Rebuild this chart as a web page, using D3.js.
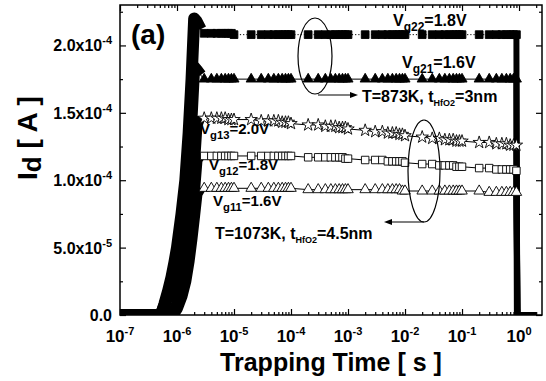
<!DOCTYPE html>
<html>
<head>
<meta charset="utf-8">
<script src="https://cdn.jsdelivr.net/npm/d3@7"></script>
<style>
body { margin: 0; background: #fff; }
text { font-family: "Liberation Sans", Arial, sans-serif; font-weight: bold; fill: #000; }
</style>
</head>
<body>
<svg id="chart" width="546" height="381"></svg>
<script>
// drain current, units of 1e-4 A
var riseT873 = [1e-7, 2e-7, 3e-7, 4e-7, 5e-7, 5.5e-7, 6e-7, 7e-7, 8e-7, 9e-7, 1e-6, 1.2e-6, 1.4e-6, 1.6e-6, 1.8e-6, 2e-6, 2.2e-6, 2.6e-6];
var vg22Rise = [0, 0, 0, 0, 0, 0.03, 0.08, 0.18, 0.28, 0.39, 0.5, 0.75, 1.0, 1.35, 1.75, 2.2, 2.18, 2.12];
var vg21Rise = [0, 0, 0, 0, 0, 0.03, 0.07, 0.15, 0.23, 0.32, 0.42, 0.63, 0.84, 1.13, 1.46, 1.84, 1.82, 1.78];

var riseT1073 = [1e-7, 2e-7, 3e-7, 4e-7, 5e-7, 6e-7, 7e-7, 8e-7, 8.5e-7, 9e-7, 1e-6, 1.2e-6, 1.4e-6, 1.6e-6, 1.8e-6, 2e-6, 2.2e-6, 2.5e-6];
var vg13Rise = [0, 0, 0, 0, 0, 0, 0, 0, 0, 0.03, 0.08, 0.22, 0.38, 0.62, 0.88, 1.14, 1.41, 1.47];
var vg12Rise = [0, 0, 0, 0, 0, 0, 0, 0, 0, 0.03, 0.07, 0.18, 0.31, 0.5, 0.72, 0.93, 1.15, 1.19];
var vg11Rise = [0, 0, 0, 0, 0, 0, 0, 0, 0, 0.02, 0.05, 0.14, 0.25, 0.40, 0.57, 0.74, 0.90, 0.94];

var plateauT = [
  3e-6, 4e-6, 5e-6, 6e-6, 7e-6, 8e-6, 9e-6,
  1e-5, 2e-5, 3e-5, 4e-5, 5e-5, 6e-5, 7e-5, 8e-5, 9e-5,
  1e-4, 2e-4, 3e-4, 4e-4, 5e-4, 6e-4, 7e-4, 8e-4, 9e-4,
  1e-3, 2e-3, 3e-3, 4e-3, 5e-3, 6e-3, 7e-3, 8e-3, 9e-3,
  1e-2, 2e-2, 3e-2, 4e-2, 5e-2, 6e-2, 7e-2, 8e-2, 9e-2,
  1e-1, 2e-1, 3e-1, 4e-1, 5e-1, 6e-1, 7e-1, 8e-1, 9e-1
];
var vg22 = [
  2.09, 2.09, 2.09, 2.09, 2.09, 2.09, 2.09,
  2.08, 2.08, 2.08, 2.08, 2.08, 2.08, 2.08, 2.08, 2.08,
  2.08, 2.08, 2.08, 2.08, 2.08, 2.08, 2.08, 2.08, 2.08,
  2.08, 2.08, 2.08, 2.08, 2.08, 2.08, 2.08, 2.08, 2.08,
  2.08, 2.08, 2.08, 2.08, 2.08, 2.08, 2.08, 2.08, 2.08,
  2.08, 2.08, 2.08, 2.08, 2.08, 2.08, 2.08, 2.08, 2.08
];
var vg21 = [
  1.75, 1.75, 1.75, 1.75, 1.75, 1.75, 1.75,
  1.75, 1.75, 1.75, 1.75, 1.75, 1.75, 1.75, 1.75, 1.75,
  1.75, 1.75, 1.75, 1.75, 1.75, 1.75, 1.75, 1.75, 1.75,
  1.75, 1.75, 1.75, 1.75, 1.75, 1.75, 1.75, 1.75, 1.75,
  1.75, 1.75, 1.75, 1.75, 1.75, 1.75, 1.75, 1.75, 1.75,
  1.75, 1.75, 1.75, 1.75, 1.75, 1.75, 1.75, 1.75, 1.75
];
var vg13 = [
  1.46, 1.46, 1.46, 1.46, 1.46, 1.45, 1.45,
  1.45, 1.45, 1.44, 1.44, 1.44, 1.44, 1.43, 1.43, 1.43,
  1.42, 1.41, 1.41, 1.40, 1.40, 1.40, 1.39, 1.39, 1.39,
  1.38, 1.37, 1.36, 1.36, 1.35, 1.35, 1.35, 1.34, 1.34,
  1.33, 1.32, 1.31, 1.31, 1.30, 1.30, 1.30, 1.29, 1.29,
  1.29, 1.28, 1.28, 1.27, 1.27, 1.27, 1.26, 1.26, 1.26
];
var vg12 = [
  1.18, 1.18, 1.18, 1.18, 1.18, 1.18, 1.18,
  1.18, 1.18, 1.18, 1.18, 1.18, 1.18, 1.18, 1.18, 1.18,
  1.18, 1.17, 1.17, 1.17, 1.17, 1.17, 1.17, 1.17, 1.16,
  1.16, 1.15, 1.15, 1.15, 1.14, 1.14, 1.14, 1.14, 1.14,
  1.13, 1.12, 1.12, 1.11, 1.11, 1.11, 1.11, 1.10, 1.10,
  1.10, 1.09, 1.09, 1.08, 1.08, 1.08, 1.08, 1.08, 1.07
];
var vg11 = [
  0.94, 0.94, 0.94, 0.94, 0.94, 0.94, 0.94,
  0.94, 0.94, 0.94, 0.94, 0.94, 0.94, 0.94, 0.94, 0.94,
  0.94, 0.93, 0.93, 0.93, 0.93, 0.93, 0.93, 0.93, 0.93,
  0.93, 0.93, 0.93, 0.93, 0.93, 0.93, 0.93, 0.93, 0.92,
  0.92, 0.92, 0.92, 0.92, 0.92, 0.92, 0.92, 0.92, 0.92,
  0.92, 0.92, 0.91, 0.91, 0.91, 0.91, 0.91, 0.91, 0.91
];

var fallT873 = [9e-1, 9.1e-1, 9.2e-1, 1.0, 1.3, 1.6, 2.0];
var vg22Fall = [2.08, 1.0, 0, 0, 0, 0, 0];
var vg21Fall = [1.75, 0.9, 0, 0, 0, 0, 0];
var fallT1073 = [9e-1, 9.2e-1, 9.4e-1, 1.0, 1.3, 1.6, 2.0];
var vg13Fall = [1.26, 0.6, 0, 0, 0, 0, 0];
var vg12Fall = [1.07, 0.5, 0, 0, 0, 0, 0];
var vg11Fall = [0.91, 0.45, 0, 0, 0, 0, 0];

var xMajor = [1e-7, 1e-6, 1e-5, 1e-4, 1e-3, 1e-2, 1e-1, 1];
var xExps = ["-7", "-6", "-5", "-4", "-3", "-2", "-1", "0"];
var yMajor = [0, 0.5, 1.0, 1.5, 2.0];
var yMinor = [0.25, 0.75, 1.25, 1.75, 2.25];
var yMant = ["0.0", "5.0x10", "1.0x10", "1.5x10", "2.0x10"];
var yExps = ["", "-5", "-4", "-4", "-4"];

var svg = d3.select("#chart");

var x = d3.scaleLog().domain([1e-7, 2.53]).range([120, 542]);
var y = d3.scaleLinear().domain([0, 2.3]).range([315, 5]);

function pts(ts, vs) {
  return ts.map(function(t, i) { return [t, vs[i]]; });
}

var series = [
  {riseT: riseT873, rise: vg22Rise, plateau: vg22, fallT: fallT873, fall: vg22Fall,
   symbol: d3.symbolSquare, size: 60, fill: "#000", dash: "1.2,2"},
  {riseT: riseT873, rise: vg21Rise, plateau: vg21, fallT: fallT873, fall: vg21Fall,
   symbol: d3.symbolTriangle, size: 44, fill: "#000", dash: null},
  {riseT: riseT1073, rise: vg13Rise, plateau: vg13, fallT: fallT1073, fall: vg13Fall,
   symbol: d3.symbolStar, size: 48, fill: "#fff", dash: null},
  {riseT: riseT1073, rise: vg12Rise, plateau: vg12, fallT: fallT1073, fall: vg12Fall,
   symbol: d3.symbolSquare, size: 56, fill: "#fff", dash: null},
  {riseT: riseT1073, rise: vg11Rise, plateau: vg11, fallT: fallT1073, fall: vg11Fall,
   symbol: d3.symbolTriangle, size: 48, fill: "#fff", dash: null}
];

svg.append("clipPath").attr("id", "plotclip")
  .append("rect").attr("x", 120).attr("y", 5).attr("width", 422).attr("height", 310);

var line = d3.line()
  .x(function(d) { return x(d[0]); })
  .y(function(d) { return y(d[1]); });

var plot = svg.append("g").attr("clip-path", "url(#plotclip)");

series.forEach(function(s) {
  var all = pts(s.riseT, s.rise).concat(pts(plateauT, s.plateau)).concat(pts(s.fallT, s.fall));
  // thin connecting line
  plot.append("path")
    .attr("d", line(all))
    .attr("fill", "none")
    .attr("stroke", "#000")
    .attr("stroke-width", 1)
    .attr("stroke-dasharray", s.dash);
});

series.forEach(function(s) {
  // densely sampled transients drawn as a heavy band
  plot.append("path")
    .attr("d", line(pts(s.riseT, s.rise)))
    .attr("fill", "none")
    .attr("stroke", "#000")
    .attr("stroke-width", 12)
    .attr("stroke-linejoin", "round");
  plot.append("path")
    .attr("d", line(pts(s.fallT, s.fall)))
    .attr("fill", "none")
    .attr("stroke", "#000")
    .attr("stroke-width", 6)
    .attr("stroke-linejoin", "miter");
});

series.forEach(function(s) {
  var sym = d3.symbol().type(s.symbol).size(s.size);
  plot.append("g")
    .selectAll("path")
    .data(pts(plateauT, s.plateau))
    .enter()
    .append("path")
    .attr("transform", function(d) { return "translate(" + x(d[0]) + "," + y(d[1]) + ")"; })
    .attr("d", sym)
    .attr("fill", s.fill)
    .attr("stroke", "#000")
    .attr("stroke-width", 0.9);
});

// frame
svg.append("rect")
  .attr("x", 120).attr("y", 5).attr("width", 422).attr("height", 310)
  .attr("fill", "none").attr("stroke", "#000").attr("stroke-width", 1.5);

// axes, ticks pointing inward
var minorX = x.ticks().filter(function(t) { return xMajor.indexOf(t) < 0; });
function styleAxis(g) {
  g.select(".domain").remove();
  g.selectAll("line").attr("stroke", "#000").attr("stroke-width", 1.2);
  g.selectAll("text").remove();
}
svg.append("g").attr("transform", "translate(0,315)")
  .call(d3.axisBottom(x).tickValues(xMajor).tickSize(-6)).call(styleAxis);
svg.append("g").attr("transform", "translate(0,315)")
  .call(d3.axisBottom(x).tickValues(minorX).tickSize(-3)).call(styleAxis);
svg.append("g").attr("transform", "translate(0,5)")
  .call(d3.axisTop(x).tickValues(xMajor).tickSize(-6)).call(styleAxis);
svg.append("g").attr("transform", "translate(0,5)")
  .call(d3.axisTop(x).tickValues(minorX).tickSize(-3)).call(styleAxis);
svg.append("g").attr("transform", "translate(120,0)")
  .call(d3.axisLeft(y).tickValues(yMajor).tickSize(-6)).call(styleAxis);
svg.append("g").attr("transform", "translate(120,0)")
  .call(d3.axisLeft(y).tickValues(yMinor).tickSize(-3)).call(styleAxis);
svg.append("g").attr("transform", "translate(542,0)")
  .call(d3.axisRight(y).tickValues(yMajor).tickSize(-6)).call(styleAxis);
svg.append("g").attr("transform", "translate(542,0)")
  .call(d3.axisRight(y).tickValues(yMinor).tickSize(-3)).call(styleAxis);

// tick labels
xMajor.forEach(function(t, i) {
  var tx = svg.append("text")
    .attr("x", x(t)).attr("y", 342)
    .attr("text-anchor", "middle")
    .attr("font-size", 17)
    .text("10");
  tx.append("tspan").attr("dy", -7).attr("font-size", 11).text(xExps[i]);
});
yMajor.forEach(function(v, i) {
  var ty = svg.append("text")
    .attr("x", 112).attr("y", y(v) + 6)
    .attr("text-anchor", "end")
    .attr("font-size", 16)
    .text(yMant[i]);
  if (yExps[i]) ty.append("tspan").attr("dy", -7).attr("font-size", 11).text(yExps[i]);
});

// axis titles
svg.append("text")
  .attr("x", 331).attr("y", 371)
  .attr("text-anchor", "middle")
  .attr("font-size", 25)
  .text("Trapping Time [ s ]");

var yt = svg.append("text")
  .attr("transform", "translate(37,138) rotate(-90)")
  .attr("text-anchor", "middle")
  .attr("font-size", 28)
  .text("I");
yt.append("tspan").attr("dy", 4).attr("font-size", 26).text("d");
yt.append("tspan").attr("dy", -4).text(" [ A ]");

svg.append("text")
  .attr("x", 131).attr("y", 44)
  .attr("font-size", 28)
  .text("(a)");

// curve labels
function vLabel(px, py, sub, rest, fs) {
  var t = svg.append("text").attr("x", px).attr("y", py).attr("font-size", fs).text("V");
  t.append("tspan").attr("dy", 5).attr("font-size", fs * 0.75).text(sub);
  t.append("tspan").attr("dy", -5).text(rest);
}
vLabel(393, 26, "g22", "=1.8V", 16);
vLabel(402, 68, "g21", "=1.6V", 16);
vLabel(200, 134, "g13", "=2.0V", 15);
vLabel(209, 170, "g12", "=1.8V", 15);
vLabel(213, 206, "g11", "=1.6V", 15);

function condLabel(px, py, head, tail) {
  var t = svg.append("text").attr("x", px).attr("y", py).attr("font-size", 16).text(head);
  t.append("tspan").attr("dy", 4).attr("font-size", 9).text("HfO2");
  t.append("tspan").attr("dy", -4).text(tail);
}
condLabel(362, 102, "T=873K, t", "=3nm");
condLabel(215, 239, "T=1073K, t", "=4.5nm");

// ellipses and arrows
svg.append("ellipse")
  .attr("cx", 315).attr("cy", 56).attr("rx", 17).attr("ry", 38)
  .attr("fill", "none").attr("stroke", "#000").attr("stroke-width", 1.2);
svg.append("ellipse")
  .attr("cx", 424).attr("cy", 171).attr("rx", 16).attr("ry", 51)
  .attr("fill", "none").attr("stroke", "#000").attr("stroke-width", 1.2);

svg.append("line").attr("x1", 318).attr("y1", 95).attr("x2", 352).attr("y2", 95)
  .attr("stroke", "#000").attr("stroke-width", 1.2);
svg.append("path").attr("d", "M358,95 L350,92 L350,98 Z").attr("fill", "#000");
svg.append("line").attr("x1", 424).attr("y1", 222).attr("x2", 390).attr("y2", 222)
  .attr("stroke", "#000").attr("stroke-width", 1.2);
svg.append("path").attr("d", "M384,222 L392,219 L392,225 Z").attr("fill", "#000");
</script>
</body>
</html>
